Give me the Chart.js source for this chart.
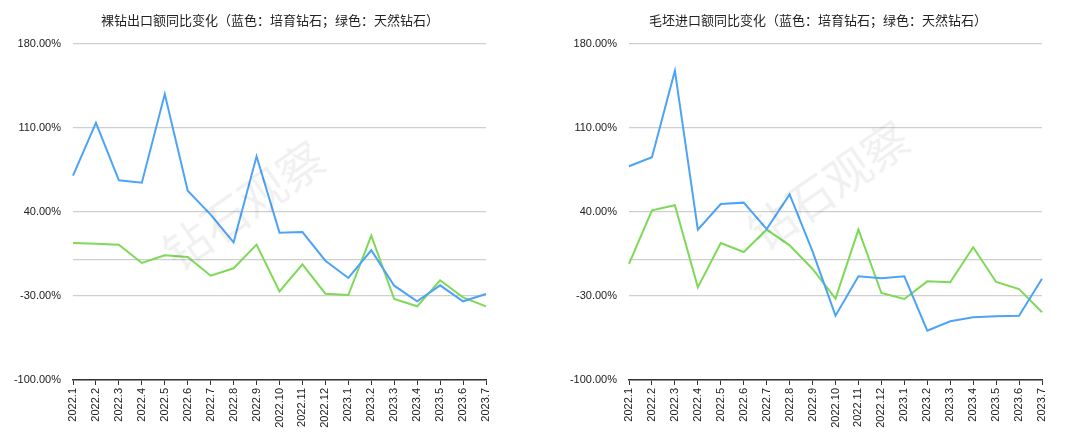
<!DOCTYPE html>
<html><head><meta charset="utf-8">
<script src="https://cdn.jsdelivr.net/npm/chart.js@4"></script>
<style>
body{margin:0;background:#fff;width:1080px;height:445px;overflow:hidden;font-family:"Noto Sans CJK SC",sans-serif}
.wrap{position:absolute;top:0;width:540px;height:445px}
.t{position:absolute;top:10px;font-size:13px;color:#222;white-space:nowrap;transform:translateX(-50%)}
.wm{position:absolute;font-size:46px;color:rgba(0,0,0,0.06);transform:rotate(-35deg);white-space:nowrap;pointer-events:none}
</style></head><body>
<div class="wrap" style="left:0"><canvas id="c1" width="540" height="445"></canvas></div>
<div class="wrap" style="left:540px"><canvas id="c2" width="540" height="445"></canvas></div>
<div class="t" style="left:270px">裸钻出口额同比变化（蓝色：培育钻石；绿色：天然钻石）</div>
<div class="t" style="left:818px">毛坯进口额同比变化（蓝色：培育钻石；绿色：天然钻石）</div>
<div class="wm" style="left:150px;top:170px">钻石观察</div>
<div class="wm" style="left:735px;top:150px">钻石观察</div>
<script>
const categories=["2022.1","2022.2","2022.3","2022.4","2022.5","2022.6","2022.7","2022.8","2022.9","2022.10","2022.11","2022.12","2023.1","2023.2","2023.3","2023.4","2023.5","2023.6","2023.7"];
const yTicks=[-100,-30,0,40,110,180];
const polishedLab=[70.3,114.2,66.4,64.4,138.3,57.8,37.8,14.7,86.4,22.8,23.3,-0.6,-15.0,8.1,-21.4,-34.4,-21.1,-34.4,-28.3];
const polishedNat=[14.2,13.6,12.8,-2.5,3.9,2.5,-13.1,-6.9,12.8,-26.1,-3.6,-28.1,-29.2,20.3,-32.5,-38.6,-16.9,-31.1,-38.6];
const roughLab=[78.1,85.6,157.8,25.3,46.7,47.8,25.8,54.7,7.2,-46.4,-13.6,-15.3,-13.6,-58.9,-51.1,-47.8,-46.9,-46.4,-15.6];
const roughNat=[-3.3,41.4,45.6,-22.8,14.2,6.7,25.3,12.2,-7.5,-32.2,25.3,-27.5,-32.5,-17.8,-18.6,10.6,-18.3,-24.2,-43.6];
function make(id,blue,green,leftW){
 new Chart(document.getElementById(id),{type:'line',
  data:{labels:categories,datasets:[
   {data:blue,borderColor:'#4da3f5',borderWidth:2,pointRadius:0,tension:0},
   {data:green,borderColor:'#7ed957',borderWidth:2,pointRadius:0,tension:0}]},
  options:{responsive:false,animation:false,
   layout:{padding:{top:44,right:540-leftW-413,left:0,bottom:0}},
   plugins:{legend:{display:false},tooltip:{enabled:false}},
   scales:{
    x:{offset:false,grid:{drawOnChartArea:false,drawTicks:true,tickLength:5,color:'#333'},border:{color:'#333',width:1.5},
       ticks:{maxRotation:90,minRotation:90,autoSkip:false,color:'#222',font:{size:11}},
       afterFit:s=>{s.height=65}},
    y:{min:-100,max:180,afterBuildTicks:s=>{s.ticks=yTicks.map(v=>({value:v}))},
       grid:{color:'#cfcfcf',lineWidth:1.2,drawTicks:false},border:{display:false},
       ticks:{color:'#222',font:{size:11},padding:12,callback:v=>v===0?'':v.toFixed(2)+'%'},
       afterFit:s=>{s.width=leftW}}
   }}});
}
make('c1',polishedLab,polishedNat,73);
make('c2',roughLab,roughNat,89);
</script></body></html>
